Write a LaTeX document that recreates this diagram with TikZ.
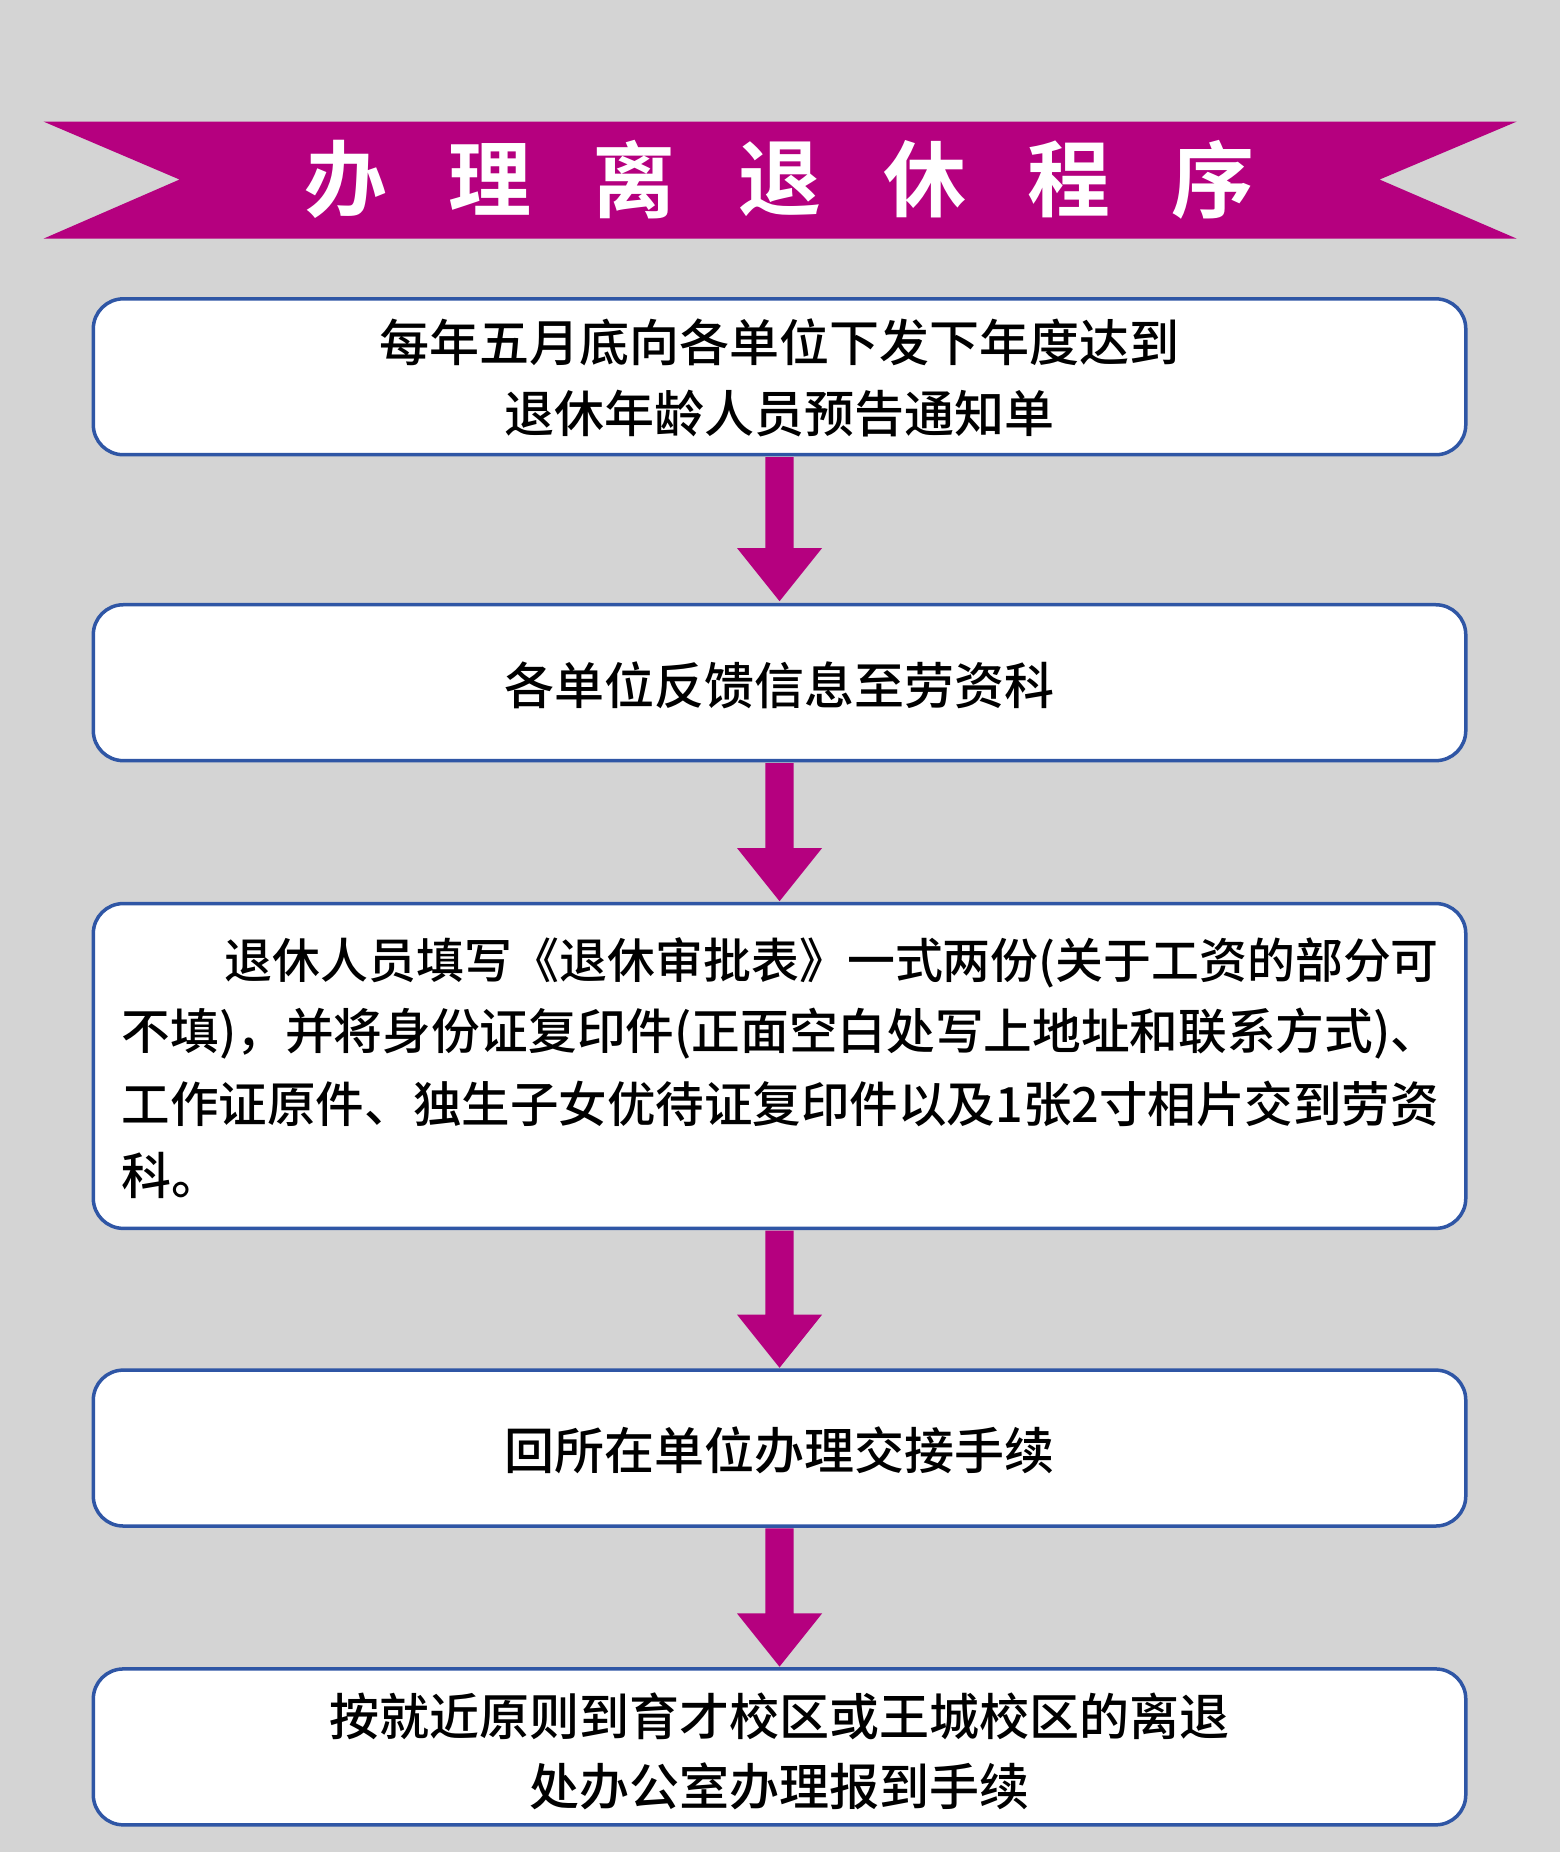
\documentclass[tikz,border=0pt]{standalone}
\usepackage{fontspec}
\usepackage{graphicx}
\setmainfont{Noto Sans CJK SC Medium}
\newfontfamily\titlefont{Noto Sans CJK SC Bold}
\usetikzlibrary{calc}
\definecolor{bg}{HTML}{D4D4D4}
\definecolor{mag}{HTML}{B5007F}
\definecolor{bord}{HTML}{2F56A5}
\begin{document}
\begin{tikzpicture}[x=1.181pt,y=-1.181pt,
  stepbox/.style={draw=bord,line width=3.5pt,fill=white,rounded corners=30pt},
  txt/.style={font=\fontsize{50pt}{71pt}\selectfont,text=black,inner sep=0pt},
  ttl/.style={font=\titlefont\fontsize{83pt}{83pt}\selectfont,text=white,inner sep=0pt}]
\fill[bg] (0,0) rectangle (1321,1568);
\useasboundingbox (0,0) rectangle (1321,1568);
\fill[mag] (37,103) -- (1284,103) -- (1168,152) -- (1284,202) -- (37,202) -- (152,152) -- cycle;
\foreach \c/\x in {办/293,理/415,离/537,退/660,休/783,程/905,序/1027}
  \node[ttl] at (\x,152) {\c};
\draw[stepbox] (79,253) rectangle (1241,385);
\draw[stepbox] (79,512) rectangle (1241,644);
\draw[stepbox] (79,765) rectangle (1241,1040);
\draw[stepbox] (79,1160) rectangle (1241,1292);
\draw[stepbox] (79,1413) rectangle (1241,1545);
\coordinate (b1) at (660,387); \coordinate (t2) at (660,509);
\coordinate (b2) at (660,646); \coordinate (t3) at (660,763);
\coordinate (b3) at (660,1042); \coordinate (t4) at (660,1158);
\coordinate (b4) at (660,1294); \coordinate (t5) at (660,1411);
\foreach \a/\b in {b1/t2,b2/t3,b3/t4,b4/t5}
  \fill[mag] ($(\a)+(-12,0)$) -- ($(\b)+(-12,-45)$) -- ($(\b)+(-36,-45)$) -- (\b) -- ($(\b)+(36,-45)$) -- ($(\b)+(12,-45)$) -- ($(\a)+(12,0)$) -- cycle;
\node[txt] (l1a) at (660,290) {每年五月底向各单位下发下年度达到};
\node[txt] (l1b) at (660,350) {退休年龄人员预告通知单};
\node[txt] (l2) at (660,580) {各单位反馈信息至劳资科};
\node[txt,anchor=west] (l3a) at (190,815) {\resizebox{1214pt}{!}{退休人员填写《退休审批表》一式两份(关于工资的部分可}};
\node[txt,anchor=west] (l3b) at (103,875) {\resizebox{1317pt}{!}{不填)，并将身份证复印件(正面空白处写上地址和联系方式)、}};
\node[txt,anchor=west] (l3c) at (103,935) {\resizebox{1317pt}{!}{工作证原件、独生子女优待证复印件以及1张2寸相片交到劳资}};
\node[txt,anchor=west] (l3d) at (103,995) {科。};
\node[txt] (l4) at (660,1228) {回所在单位办理交接手续};
\node[txt] (l5a) at (660,1453) {按就近原则到育才校区或王城校区的离退};
\node[txt] (l5b) at (660,1512) {处办公室办理报到手续};
\end{tikzpicture}
\end{document}
